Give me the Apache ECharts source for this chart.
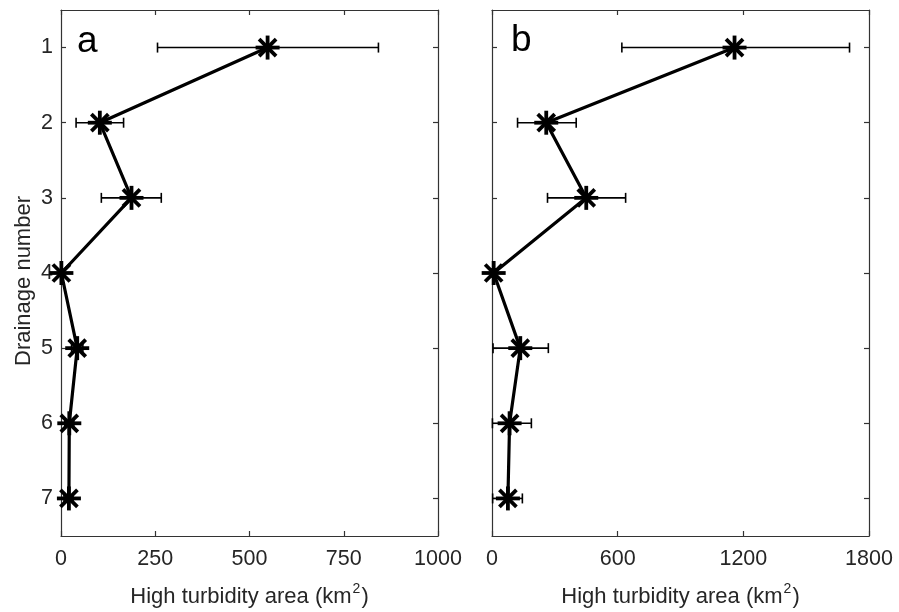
<!DOCTYPE html>
<html>
<head>
<meta charset="utf-8">
<script src="https://cdn.jsdelivr.net/npm/echarts@6/dist/echarts.min.js"></script>
<style>html,body{margin:0;padding:0;background:#fff;}#c{width:899px;height:612px;}</style>
</head>
<body>
<div id="c"></div>
<script>
// Drainage numbers (y categories)
const categories = ['1', '2', '3', '4', '5', '6', '7'];
// Panel a: high turbidity area (km2), mean and error bar bounds
const aValues = [548, 103, 187, 1, 43, 22, 21];
const aLow    = [256, 40, 107, 0, 28, 10, 8];
const aHigh   = [842, 166, 266, 4, 58, 34, 32];
// Panel b
const bValues = [1158, 259, 450, 8, 135, 84, 76];
const bLow    = [620, 122, 265, 0, 5, 2, 3];
const bHigh   = [1707, 402, 638, 18, 269, 188, 145];
// Axis ticks
const aTicks = { min: 0, max: 1000, interval: 250 };
const bTicks = { min: 0, max: 1800, interval: 600 };

const FONT = "'Liberation Sans', Arial, sans-serif";
const AX = '#333333';
const TXT = '#262626';

const chart = echarts.init(document.getElementById('c'), null, { renderer: 'canvas' });

function xAxes(t, gridIndex) {
  const base = {
    type: 'value', gridIndex, min: t.min, max: t.max, interval: t.interval,
    splitLine: { show: false },
    axisLine: { show: true, onZero: false, lineStyle: { color: AX, width: 1.2 } },
    axisTick: { show: true, inside: true, length: 5, lineStyle: { color: AX, width: 1.2 } }
  };
  return [
    Object.assign({}, base, {
      position: 'bottom',
      axisLabel: { show: true, color: TXT, fontSize: 21.5, fontFamily: FONT, margin: 12,
        formatter: v => String(v) },
      name: 'High turbidity area (km{sup|2})',
      nameLocation: 'middle', nameGap: 46,
      nameTextStyle: { color: TXT, fontSize: 22, fontFamily: FONT, lineHeight: 30,
        rich: { sup: { fontSize: 14, fontFamily: FONT, color: TXT, verticalAlign: 'top', lineHeight: 14, padding: [0, 1, 0, 1] } } }
    }),
    Object.assign({}, base, { position: 'top', axisLabel: { show: false } })
  ];
}
function yAxes(gridIndex, showLabels) {
  const base = {
    type: 'category', gridIndex, data: categories, inverse: true, boundaryGap: true,
    splitLine: { show: false },
    axisLine: { show: true, onZero: false, lineStyle: { color: AX, width: 1.2 } },
    axisTick: { show: true, inside: true, length: 5, alignWithLabel: true, interval: 0, lineStyle: { color: AX, width: 1.2 } }
  };
  const left = Object.assign({}, base, {
    position: 'left',
    axisLabel: { show: showLabels, color: TXT, fontSize: 21.5, fontFamily: FONT, margin: 8 }
  });
  if (showLabels) {
    left.name = 'Drainage number';
    left.nameLocation = 'middle';
    left.nameGap = 26;
    left.nameTextStyle = { color: TXT, fontSize: 22, fontFamily: FONT, padding: [0, 16, 0, 0] };
  }
  return [left, Object.assign({}, base, { position: 'right', axisLabel: { show: false } })];
}

function renderItem(params, api) {
  const yi = api.value(1);
  const c = api.coord([api.value(0), yi]);
  const l = api.coord([api.value(2), yi]);
  const h = api.coord([api.value(3), yi]);
  const cap = 5, s = 12, d = 8.5;
  const eb = { stroke: '#000', lineWidth: 1.6 };
  const mk = { stroke: '#000', lineWidth: 3.8 };
  return {
    type: 'group',
    children: [
      { type: 'line', shape: { x1: l[0], y1: l[1], x2: h[0], y2: h[1] }, style: eb },
      { type: 'line', shape: { x1: l[0], y1: l[1] - cap, x2: l[0], y2: l[1] + cap }, style: eb },
      { type: 'line', shape: { x1: h[0], y1: h[1] - cap, x2: h[0], y2: h[1] + cap }, style: eb },
      { type: 'line', shape: { x1: c[0] - s, y1: c[1], x2: c[0] + s, y2: c[1] }, style: mk },
      { type: 'line', shape: { x1: c[0], y1: c[1] - s, x2: c[0], y2: c[1] + s }, style: mk },
      { type: 'line', shape: { x1: c[0] - d, y1: c[1] - d, x2: c[0] + d, y2: c[1] + d }, style: mk },
      { type: 'line', shape: { x1: c[0] - d, y1: c[1] + d, x2: c[0] + d, y2: c[1] - d }, style: mk }
    ]
  };
}

function seriesFor(vals, lows, highs, xi, yi) {
  return [
    {
      type: 'line', xAxisIndex: xi, yAxisIndex: yi,
      data: vals.map((v, i) => [v, i]),
      symbol: 'none', lineStyle: { color: '#000', width: 3.2 }, silent: true, animation: false
    },
    {
      type: 'custom', xAxisIndex: xi, yAxisIndex: yi,
      data: vals.map((v, i) => [v, i, lows[i], highs[i]]),
      encode: { x: 0, y: 1 },
      renderItem, clip: false, silent: true, animation: false
    }
  ];
}

chart.setOption({
  animation: false,
  backgroundColor: '#fff',
  textStyle: { fontFamily: FONT },
  grid: [
    { left: 61, top: 10, width: 377, height: 526, containLabel: false, outerBoundsMode: 'none' },
    { left: 492, top: 10, width: 377, height: 526, containLabel: false, outerBoundsMode: 'none' }
  ],
  xAxis: [...xAxes(aTicks, 0), ...xAxes(bTicks, 1)],
  yAxis: [...yAxes(0, true), ...yAxes(1, false)],
  series: [
    ...seriesFor(aValues, aLow, aHigh, 0, 0),
    ...seriesFor(bValues, bLow, bHigh, 2, 2)
  ],
  graphic: [
    { type: 'text', left: 77, top: 23, style: { text: 'a', font: "37px " + FONT, fill: '#000' } },
    { type: 'text', left: 511, top: 22, style: { text: 'b', font: "37px " + FONT, fill: '#000' } }
  ]
});
</script>
</body>
</html>
